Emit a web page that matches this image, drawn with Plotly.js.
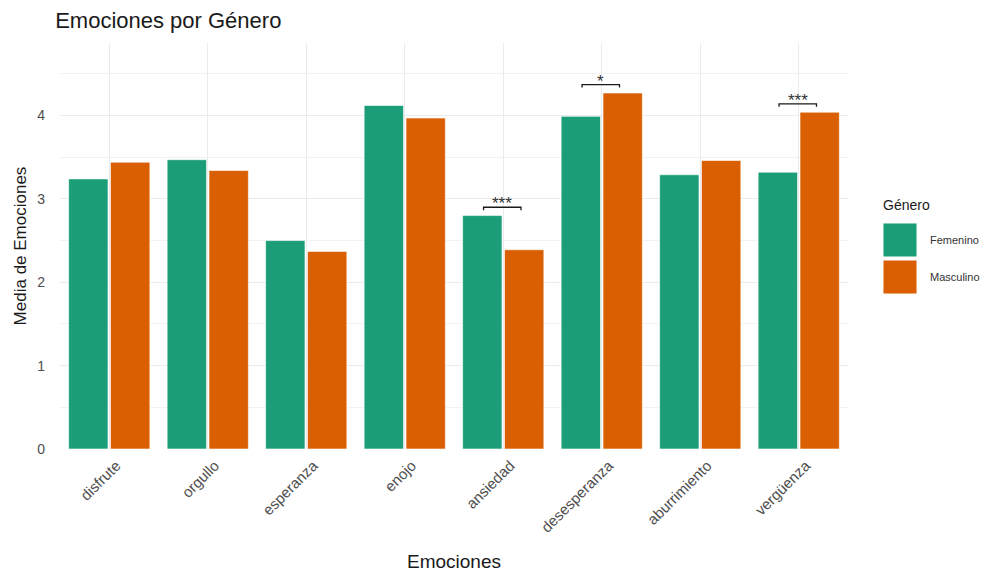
<!DOCTYPE html>
<html><head><meta charset="utf-8">
<script src="https://cdn.plot.ly/plotly-3.0.1.min.js"></script>
<style>body{margin:0;background:#fff}#chart{width:985px;height:574px}</style>
</head><body><div id="chart"></div>
<script>
const categories = ["disfrute","orgullo","esperanza","enojo","ansiedad","desesperanza","aburrimiento","vergüenza"];
const femenino = [3.24, 3.47, 2.50, 4.12, 2.80, 3.99, 3.29, 3.32];
const masculino = [3.44, 3.34, 2.37, 3.97, 2.39, 4.27, 3.46, 4.04];
const significance = ["", "", "", "", "***", "*", "", "***"];
const seriesNames = ["Femenino", "Masculino"];
const colors = ["#1b9e77", "#d95f02"];
const FONT = "Liberation Sans, Arial, sans-serif";

const traces = [femenino, masculino].map((vals, i) => ({
  type: "bar", x: categories, y: vals, name: seriesNames[i],
  marker: {color: colors[i], line: {color: "rgba(255,255,255,0.6)", width: 1}},
  showlegend: false, hoverinfo: "x+y+name"
}));

const shapes = [];
const annotations = [];
significance.forEach((s, i) => {
  if (!s) return;
  const yb = Math.max(femenino[i], masculino[i]) + 0.1;
  const x0 = i - 0.2, x1 = i + 0.18, tk = 0.035;
  shapes.push({type: "path", xref: "x", yref: "y",
    path: `M ${x0} ${yb - tk} L ${x0} ${yb} L ${x1} ${yb} L ${x1} ${yb - tk}`,
    line: {color: "#1a1a1a", width: 1.3}});
  annotations.push({xref: "x", yref: "y", x: (x0 + x1) / 2, y: yb, text: s,
    showarrow: false, yanchor: "bottom", yshift: -8,
    font: {family: FONT, size: 17, color: "#333"}});
});

// custom legend (ggplot-style big swatches)
annotations.push({xref: "paper", yref: "paper", x: 1.042, y: 0.601, xanchor: "left", yanchor: "middle",
  text: "Género", showarrow: false, font: {family: FONT, size: 14, color: "#1a1a1a"}});
const swTop = [0.5567, 0.4655];
seriesNames.forEach((n, i) => {
  const ytop = swTop[i];
  shapes.push({type: "rect", xref: "paper", yref: "paper", x0: 1.0444, x1: 1.0876,
    y0: ytop - 0.0838, y1: ytop, fillcolor: colors[i], line: {color: "#fff", width: 1}});
  annotations.push({xref: "paper", yref: "paper", x: 1.102, y: ytop - 0.042, xanchor: "left", yanchor: "middle",
    text: n, showarrow: false, font: {family: FONT, size: 11, color: "#333"}});
});

const layout = {
  width: 985, height: 574,
  margin: {l: 60, r: 137, t: 43, b: 125},
  paper_bgcolor: "#fff", plot_bgcolor: "#fff",
  font: {family: FONT, color: "#4d4d4d"},
  title: {text: "Emociones por Género", x: 0.056, xanchor: "left", y: 0.964, yanchor: "middle",
    font: {size: 22, color: "#1a1a1a"}},
  barmode: "group", bargap: 0.15, bargroupgap: 0.06,
  xaxis: {type: "category", range: [-0.5, 7.5], showgrid: true, gridcolor: "#ebebeb", gridwidth: 1.3,
    zeroline: false, showline: false, ticks: "", tickangle: -45,
    tickfont: {size: 15, color: "#4d4d4d"}, ticklabelshift: 7, ticklabelstandoff: 4,
    title: {text: "Emociones", font: {size: 19, color: "#1a1a1a"}, standoff: 20}},
  yaxis: {range: [0, 4.87], dtick: 1, tick0: 0, showgrid: true, gridcolor: "#ebebeb", gridwidth: 1.3,
    zeroline: false, showline: false, ticks: "",
    minor: {dtick: 0.5, showgrid: true, gridcolor: "#f2f2f2", gridwidth: 0.9},
    tickfont: {size: 14, color: "#4d4d4d"}, ticklabelstandoff: 14,
    title: {text: "Media de Emociones", font: {size: 17, color: "#1a1a1a"}, standoff: 6}},
  shapes: shapes, annotations: annotations
};
Plotly.newPlot("chart", traces, layout, {displayModeBar: false});
</script></body></html>
